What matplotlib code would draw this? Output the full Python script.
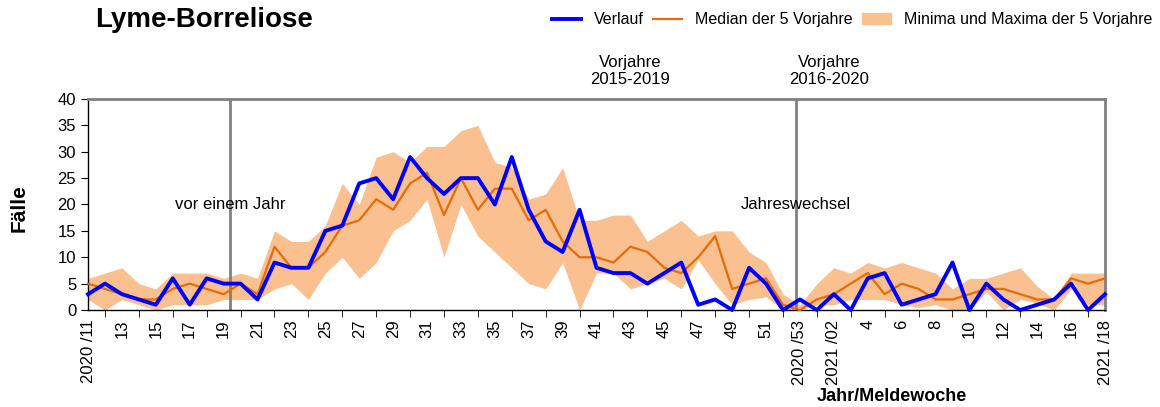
"""Lyme-Borreliose: Meldewochen 2020/11 bis 2021/18 gegen Median und Spannweite der 5 Vorjahre."""
import matplotlib
matplotlib.use("Agg")
import matplotlib.pyplot as plt
from matplotlib.patches import Patch
from matplotlib.lines import Line2D

plt.rcParams['font.family'] = ['Liberation Sans', 'DejaVu Sans']

# categories: 2020/11 .. 2020/53, 2021/01 .. 2021/18
weeks = [f"2020/{w:02d}" for w in range(11, 54)] + [f"2021/{w:02d}" for w in range(1, 19)]

tick_labels = ["2020 /11", "13", "15", "17", "19", "21", "23", "25", "27", "29",
               "31", "33", "35", "37", "39", "41", "43", "45", "47", "49", "51",
               "2020 /53", "2021 /02", "4", "6", "8", "10", "12", "14", "16", "2021 /18"]

verlauf = [3, 5, 3, 2, 1, 6, 1, 6, 5, 5,
           2, 9, 8, 8, 15, 16, 24, 25, 21, 29,
           25, 22, 25, 25, 20, 29, 19, 13, 11, 19,
           8, 7, 7, 5, 7, 9, 1, 2, 0, 8,
           5, 0, 2, 0, 3, 0, 6, 7, 1, 2,
           3, 9, 0, 5, 2, 0, 1, 2, 5, 0,
           3]

median = [5, 4, 3, 2, 2, 4, 5, 4, 3, 5,
          3, 12, 8, 8, 11, 16, 17, 21, 19, 24,
          26, 18, 25, 19, 23, 23, 17, 19, 13, 10,
          10, 9, 12, 11, 8, 7, 10, 14, 4, 5,
          6, 1, 0, 2, 3, 5, 7, 3, 5, 4,
          2, 2, 3, 4, 4, 3, 2, 2, 6, 5,
          6]

minima = [2, 0, 2, 1, 0, 1, 1, 1, 2, 2,
          2, 4, 5, 2, 7, 10, 6, 9, 15, 17,
          21, 10, 20, 14, 11, 8, 5, 4, 9, 0,
          7, 7, 4, 5, 6, 4, 9.5, 5, 1, 2,
          2.5, 0, 0, 1, 1, 2, 2, 2, 1, 0.5,
          1, 0, 0, 3.5, 0, 2, 1.3, 0, 4, 1,
          1]

maxima = [6, 7, 8, 5, 4, 7, 7, 7, 6, 7,
          6, 15, 13, 13, 16, 24, 20, 29, 30, 28,
          31, 31, 34, 35, 28, 27, 21, 22, 27, 17,
          17, 18, 18, 13, 15, 17, 14, 15, 15, 11,
          9, 3, 1, 5, 8, 7, 9, 8, 9, 8,
          7, 4, 6, 6, 7, 8, 4.5, 2, 7, 7,
          7]

# marker lines: "vor einem Jahr" between week 19 and 20, "Jahreswechsel" before 2020/53
marker_pos = [8.4, 41.75]

BLUE = '#0000FF'
ORANGE = '#E46C0A'
BAND = '#FAC090'
GREY = '#808080'


def main():
    fig = plt.figure(figsize=(11.6, 4.07), dpi=100)
    ax = fig.add_axes([0.0759, 0.2383, 0.8767, 0.5185])

    x = list(range(len(weeks)))
    ax.fill_between(x, minima, maxima, color=BAND, linewidth=0, zorder=1)
    for pos in marker_pos:
        ax.axvline(pos, color=GREY, lw=2, zorder=2)
    ax.plot(x, median, color=ORANGE, lw=1.6, zorder=3, clip_on=False)
    ax.plot(x, verlauf, color=BLUE, lw=2.8, zorder=4, clip_on=False)

    ax.set_xlim(0, len(weeks) - 1)
    ax.set_ylim(0, 40)
    ax.set_yticks(range(0, 41, 5))
    ax.tick_params(axis='y', labelsize=12, length=5, direction='out')

    # labels on even positions, tick marks on odd positions
    ax.set_xticks(x[::2])
    ax.set_xticklabels(tick_labels, rotation=90, fontsize=12)
    ax.set_xticks(x[1::2], minor=True)
    ax.tick_params(axis='x', which='major', length=0, pad=7)
    ax.tick_params(axis='x', which='minor', length=5, direction='out')

    for side in ('top', 'right'):
        ax.spines[side].set_color(GREY)
        ax.spines[side].set_linewidth(2)
    for side in ('left', 'bottom'):
        ax.spines[side].set_color('black')
        ax.spines[side].set_linewidth(1)

    ax.text(marker_pos[0], 20, 'vor einem Jahr', ha='center', va='center', fontsize=12, zorder=5)
    ax.text(marker_pos[1], 20, 'Jahreswechsel', ha='center', va='center', fontsize=12, zorder=5)
    ax.text(32.0, 45.3, 'Vorjahre\n2015-2019', ha='center', va='center', fontsize=12,
            linespacing=1.1, clip_on=False)
    ax.text(43.7, 45.3, 'Vorjahre\n2016-2020', ha='center', va='center', fontsize=12,
            linespacing=1.1, clip_on=False)

    fig.text(0.082, 0.952, 'Lyme-Borreliose', fontsize=20, weight='bold', ha='left', va='center')
    fig.text(0.0165, 0.49, 'Fälle', fontsize=15, weight='bold', rotation=90, ha='center', va='center')
    fig.text(0.769, 0.027, 'Jahr/Meldewoche', fontsize=13, weight='bold', ha='center', va='center')

    handles = [Line2D([], [], color=BLUE, lw=2.8),
               Line2D([], [], color=ORANGE, lw=1.6),
               Patch(color=BAND)]
    labels = ['Verlauf', 'Median der 5 Vorjahre', 'Minima und Maxima der 5 Vorjahre']
    fig.legend(handles, labels, ncol=3, loc='upper right', bbox_to_anchor=(0.993, 0.97),
               frameon=False, fontsize=11.5, borderpad=0, borderaxespad=0,
               handlelength=1.8, handletextpad=0.8, columnspacing=0.6)

    fig.savefig('out.png', dpi=100)


if __name__ == '__main__':
    main()
